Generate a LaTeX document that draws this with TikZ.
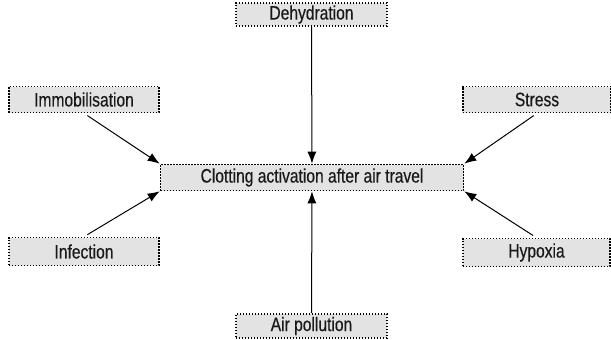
\documentclass[tikz,border=0pt]{standalone}
\usepackage{fontspec}
\setmainfont{Liberation Sans}[FakeStretch=0.8, FakeBold=0.4]
\usetikzlibrary{arrows.meta}

\tikzset{
  factor/.style={draw, line width=1.6pt, dash pattern=on 1.4pt off 1.6pt, fill=gray!22,
    minimum height=26pt, inner sep=0pt, font=\fontsize{19.5}{21}\selectfont, text=black!90},
  cause/.style={-{Latex[length=12pt, width=9pt]}, line width=1pt, shorten <=4pt}
}

\begin{document}
\begin{tikzpicture}[x=1pt, y=-1pt]
  \useasboundingbox (0, 0) rectangle (611, 340);

  \node [factor, minimum width=303pt] (clot) at (312, 177.5) {Clotting activation after air travel};

  \node [factor, minimum width=151pt, minimum height=23pt] (dehyd) at (311.5, 14.5) {Dehydration};
  \node [factor, minimum width=151pt, minimum height=24pt] (pollut) at (311.5, 326) {Air pollution};
  \node [factor, minimum width=150pt] (immob) at (84, 99.5) {Immobilisation};
  \node [factor, minimum width=150pt, minimum height=28pt] (infect) at (84, 251.5) {Infection};
  \node [factor, minimum width=148pt] (stress) at (537, 99.5) {Stress};
  \node [factor, minimum width=147pt, minimum height=28pt] (hypox) at (536.5, 252.5) {Hypoxia};

  \draw [cause, shorten <=0pt] (dehyd) -- (clot);
  \draw [cause, shorten <=0pt] (pollut) -- (clot);
  \draw [cause] (immob.south) -- (clot.north west);
  \draw [cause] (infect.north) -- (clot.south west);
  \draw [cause] (stress.south) -- (clot.north east);
  \draw [cause] (hypox.north) -- (clot.south east);
\end{tikzpicture}
\end{document}
